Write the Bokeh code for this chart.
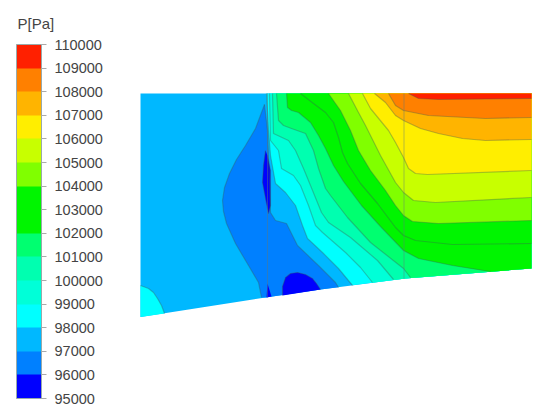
import numpy as np
from bokeh.embed import file_html
from bokeh.resources import INLINE
from bokeh.plotting import figure
from bokeh.core.properties import value
from bokeh.models import ColorBar, LinearColorMapper, FixedTicker, NumeralTickFormatter

levels = list(range(95000, 111000, 1000))
band_colors = ["#0000ff", "#0080ff", "#00b8ff", "#00ffff", "#00ffd8", "#00ffb0", "#00ff70", "#00f500",
               "#00f500", "#80ff00", "#c8ff00", "#ffee00", "#ffb400", "#ff8000", "#ff2000"]
legend_title = "P[Pa]"

top_y = 93
right_x = 531
left_x = 140
bottom_x = [140, 265, 320, 405, 531]
bottom_y = [316.5, 297, 289, 278, 268]

blue_left = [(264, 104), (255, 128), (245, 145), (236, 159), (229, 173), (224, 187), (222, 200), (223, 211), (226, 223),
             (235, 243), (248, 265), (258, 282), (261, 297)]
c97 = [(264, 104), (267, 130), (268, 155), (270, 212), (275, 220), (286, 223), (297, 245), (318, 265), (335, 282), (338, 287)]
c98 = [(266, 93), (268, 130), (270, 155), (275, 183), (285, 192), (295, 205), (302, 225), (307, 238), (322, 252), (338, 268), (352, 285)]
c99 = [(269, 93), (270, 140), (278, 150), (281, 168), (293, 175), (300, 185), (308, 205), (315, 225), (322, 232), (345, 252), (360, 267), (372, 282)]
c100 = [(272, 93), (273, 133), (288, 140), (295, 150), (303, 168), (310, 185), (321, 212), (328, 222), (350, 237), (377, 260), (393, 279)]
c101 = [(276, 93), (278, 120), (283, 125), (291, 128), (305, 133), (313, 150), (318, 168), (325, 188), (330, 195), (347, 217), (370, 242), (403, 268), (410, 277)]
c102 = [(286, 93), (287, 107), (291, 110), (298, 112), (310, 122), (318, 135), (325, 148), (333, 165), (343, 181), (361, 205), (380, 226), (403, 250), (418, 258), (452, 265), (490, 271)]
c103 = [(300, 93), (313, 103), (325, 112), (333, 122), (338, 137), (342, 152), (347, 163), (360, 183), (377, 203), (395, 227), (403, 235), (415, 240), (452, 244), (531, 243)]
c104 = [(328, 93), (340, 110), (350, 130), (358, 150), (370, 170), (385, 190), (395, 205), (403, 215), (412, 221), (438, 223), (531, 220)]
c105 = [(348, 93), (358, 112), (365, 125), (380, 155), (395, 182), (403, 192), (413, 200), (435, 202), (531, 197)]
c106 = [(362, 93), (370, 108), (388, 130), (395, 142), (403, 157), (408, 168), (415, 173), (427, 174), (531, 170)]
c107 = [(374, 93), (385, 102), (395, 115), (403, 120), (420, 128), (438, 133), (462, 138), (485, 140), (531, 139)]
c108 = [(388, 93), (395, 105), (403, 110), (428, 115), (485, 118), (531, 117)]
c109 = [(408, 93), (418, 98), (438, 99), (531, 98)]
corner_98 = [(140, 285), (148, 288), (153, 292), (157, 298), (161, 305), (164, 313)]
blob_96 = [(282, 295), (282, 286), (285, 277), (290, 273), (297, 272), (305, 274), (312, 278), (316, 283), (320, 289)]
sliver_96 = [(265, 150), (263, 165), (262, 182), (265, 198), (268, 213), (270, 205), (270, 170), (267, 155)]
sliver2_96 = [(267, 283), (266, 297), (271, 296)]
interfaces = [267, 403.5]


def bottom_at(x):
    return float(np.interp(x, bottom_x, bottom_y))


def right_region(line):
    pts = list(line)
    ex, ey = pts[-1]
    if ex < right_x:
        pts[-1] = (ex, bottom_at(ex))
        pts += [(x, y) for x, y in zip(bottom_x, bottom_y) if x > ex]
    pts.append((right_x, top_y))
    return pts


p = figure(width=540, height=412, x_range=(0, 540), y_range=(412, 0), output_backend="svg",
           toolbar_location=None, min_border=0, outline_line_color=None)
p.axis.visible = False
p.grid.visible = False
p.background_fill_color = "white"
p.border_fill_color = "white"

dom = [(left_x, top_y), (right_x, top_y)] + list(zip(bottom_x[::-1], bottom_y[::-1]))
blue = blue_left + [(x, y) for x, y in zip(bottom_x, bottom_y) if 261 < x < 338] + [(338, bottom_at(338))] + c97[::-1][1:]
regions = [(dom, band_colors[2]), (blue, band_colors[1]), (blob_96, band_colors[0]), (sliver_96, band_colors[0]),
           (sliver2_96, band_colors[0]), (corner_98 + [(140, bottom_y[0])], band_colors[3])]
contours = [c98, c99, c100, c101, c102, c103, c104, c105, c106, c107, c108, c109]
for i, c in enumerate(contours):
    regions.append((right_region(c), band_colors[i + 3]))

p.patches([[a for a, _ in r] for r, _ in regions], [[b for _, b in r] for r, _ in regions],
          fill_color=[c for _, c in regions], line_color=None)

lines = [blue_left, c97, blob_96, sliver_96, corner_98] + contours
for ln in lines:
    p.line([a for a, _ in ln], [b for _, b in ln], line_color="#3a5a50", line_alpha=0.35, line_width=1.2,
           line_join="round")
for xv in interfaces:
    p.line([xv, xv], [top_y, bottom_at(xv)], line_color="#607878", line_alpha=0.45, line_width=1)

p.text([17], [23], text=[legend_title], text_font=value("Liberation Sans"), text_font_size="15px",
       text_color="#444444", text_baseline="middle", text_align="left")

mapper = LinearColorMapper(palette=band_colors, low=levels[0], high=levels[-1])
cb = ColorBar(color_mapper=mapper, ticker=FixedTicker(ticks=levels), formatter=NumeralTickFormatter(format="0"),
              width=25, height=354, location=(16, 14), major_label_text_font="Liberation Sans",
              major_label_text_font_size="14.5px",
              major_label_text_color="#444444", major_tick_in=0, major_tick_out=5, major_tick_line_color="#aaaaaa",
              minor_tick_line_color=None, bar_line_color="#99aaaa", label_standoff=8,
              background_fill_color=None, border_line_color=None, padding=0, margin=0)
p.add_layout(cb, "center")

open("out.html", "w").write(file_html(p, INLINE))
